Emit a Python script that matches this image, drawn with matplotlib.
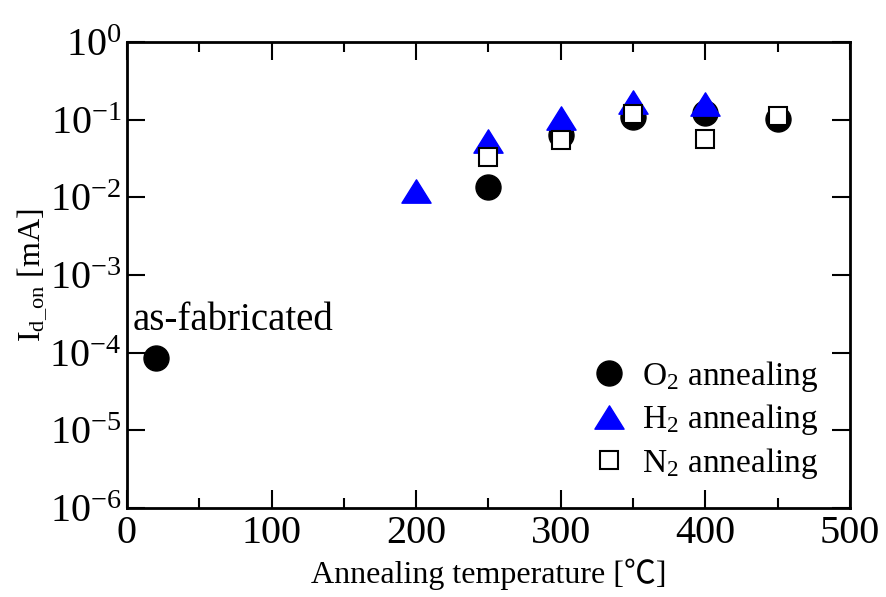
import matplotlib
matplotlib.use('Agg')
import matplotlib.pyplot as plt
from matplotlib.ticker import MultipleLocator, FixedLocator
from matplotlib.path import Path

plt.rcParams['font.family'] = ['Liberation Serif', 'Noto Sans CJK JP']
plt.rcParams['mathtext.fontset'] = 'custom'
plt.rcParams['mathtext.rm'] = 'Liberation Serif'
plt.rcParams['mathtext.it'] = 'Liberation Serif:italic'

# annealing temperature [C] and on-current [mA]
temp_o2 = [20, 250, 300, 350, 400, 450]
id_o2 = [8.5e-5, 0.0137, 0.064, 0.109, 0.121, 0.103]

temp_h2 = [200, 250, 300, 350, 400]
id_h2 = [0.0121, 0.0527, 0.105, 0.169, 0.159]

temp_n2 = [250, 300, 350, 400, 450]
id_n2 = [0.0328, 0.0553, 0.120, 0.057, 0.110]

ytick_vals = [1e-6, 1e-5, 1e-4, 1e-3, 1e-2, 1e-1, 1e0]
ytick_labels = ['$\\mathregular{10^{-6}}$', '$\\mathregular{10^{-5}}$', '$\\mathregular{10^{-4}}$',
                '$\\mathregular{10^{-3}}$', '$\\mathregular{10^{-2}}$', '$\\mathregular{10^{-1}}$',
                '$\\mathregular{10^{0}}$']

# a slightly flattened up-triangle
wide_tri = Path([(-1.25, -1), (1.25, -1), (0, 1), (-1.25, -1)],
                [Path.MOVETO, Path.LINETO, Path.LINETO, Path.CLOSEPOLY])

fig = plt.figure(figsize=(8.87, 5.97), dpi=100)
ax = fig.add_axes([127/887, 1 - 508/597, 723/887, 466/597])

ax.plot(temp_o2, id_o2, 'o', color='black', markersize=18, label='O$_2$ annealing', zorder=3)
ax.plot(temp_h2, id_h2, marker=wide_tri, linestyle='none', color='blue', markersize=21,
        label='H$_2$ annealing', zorder=4)
ax.plot(temp_n2, id_n2, 's', markerfacecolor='white', markeredgecolor='black',
        markeredgewidth=1.5, markersize=12.5, label='N$_2$ annealing', zorder=5)

ax.set_yscale('log')
ax.set_xlim(0, 500)
ax.set_ylim(1e-6, 1e0)
ax.xaxis.set_major_locator(MultipleLocator(100))
ax.xaxis.set_minor_locator(MultipleLocator(50))
ax.set_yticks(ytick_vals)
ax.set_yticklabels(ytick_labels)
ax.yaxis.set_minor_locator(FixedLocator([]))

ax.tick_params(which='both', direction='in', top=True, right=True, width=1.5, labelsize=29)
ax.tick_params(which='major', length=13)
ax.tick_params(which='minor', length=7)
ax.tick_params(axis='x', which='major', pad=5)
ax.tick_params(axis='y', which='major', pad=4)
for sp in ax.spines.values():
    sp.set_linewidth(2)

ax.set_xlabel('Annealing temperature [℃]', fontsize=23, labelpad=5)
ax.set_ylabel('$\\mathregular{I_{d\\_on}}$ [mA]', fontsize=23, labelpad=0)

ax.text(4, 1.95e-4, 'as-fabricated', fontsize=28, ha='left', va='baseline')

ax.legend(loc='lower right', frameon=False, fontsize=24, handletextpad=0.2,
          labelspacing=0.25, handlelength=1.6, bbox_to_anchor=(0.975, 0.03), borderaxespad=0)

fig.savefig('out.png', dpi=100)
